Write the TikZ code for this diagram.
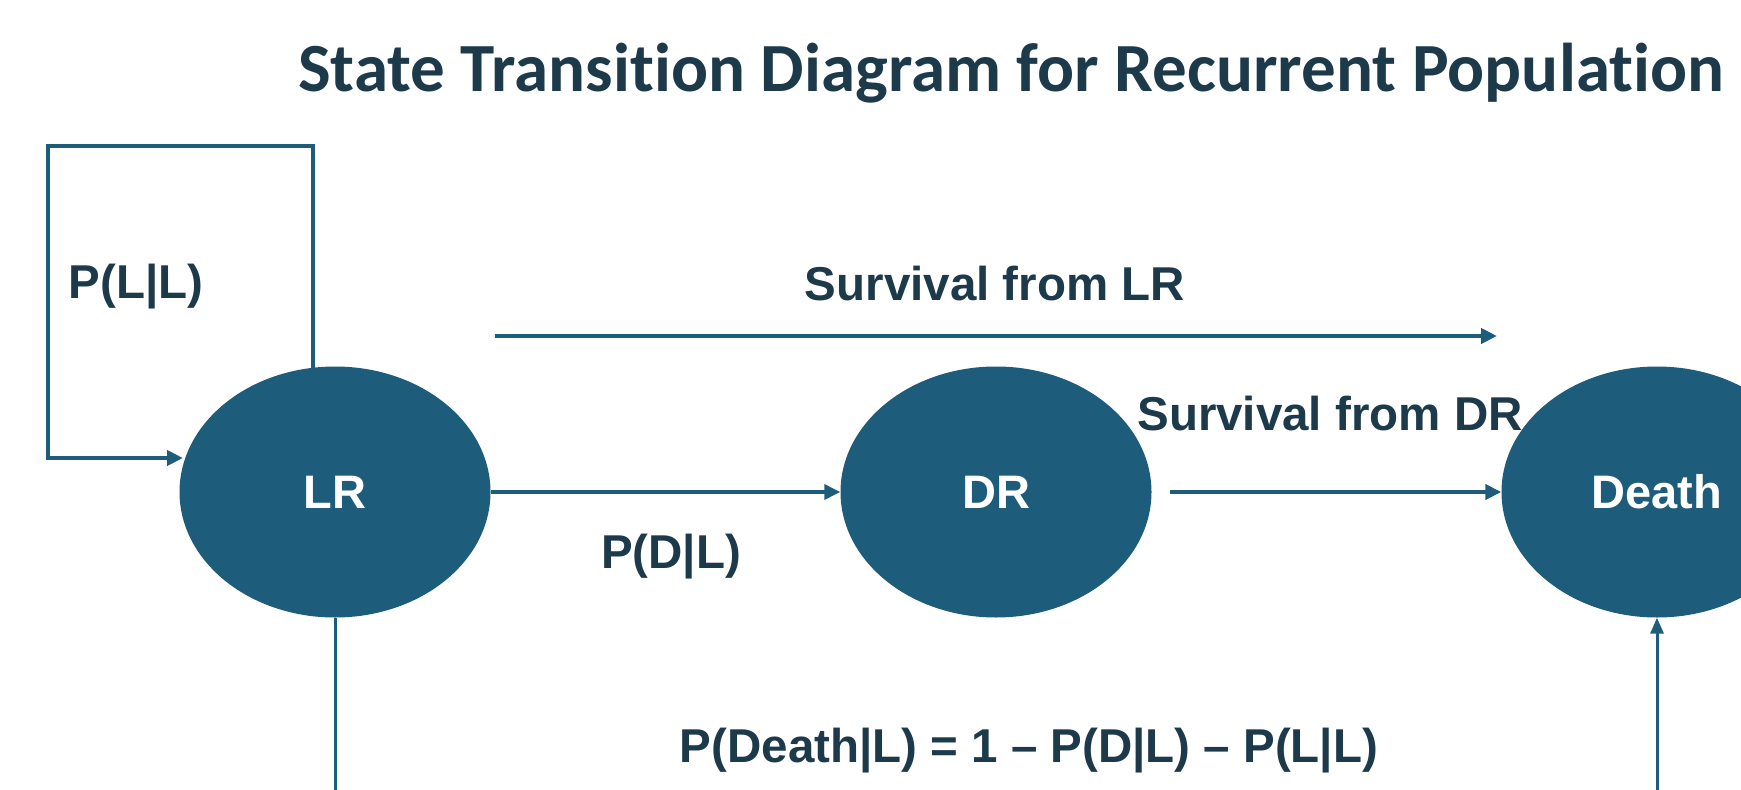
\documentclass[tikz,border=0pt]{standalone}
\usepackage{fontspec}
\setmainfont{Liberation Sans}
\newfontfamily\titlefont[Ligatures=NoCommon]{Carlito}
\usetikzlibrary{shapes.geometric,arrows.meta}

\definecolor{statefill}{HTML}{1E5C7B}
\definecolor{labeltext}{HTML}{1D3A4B}

\tikzset{
  statenode/.style={ellipse, fill=statefill, draw=none, inner sep=0pt,
    minimum width=311pt, minimum height=251pt, text=white,
    font=\fontsize{47}{56}\selectfont\bfseries},
  lbl/.style={text=labeltext, inner sep=0pt,
    font=\fontsize{47.5}{56}\selectfont\bfseries},
  link/.style={draw=statefill, line width=4pt,
    -{Triangle[length=16pt,width=15pt]}},
  thinlink/.style={draw=statefill, line width=3pt},
}

\begin{document}
\begin{tikzpicture}[x=1pt,y=-1pt]
  \useasboundingbox (0,0) rectangle (1741,790);
  \clip (0,0) rectangle (1741,790);

  % title
  \node[text=labeltext, inner sep=0pt, anchor=base west,
        font=\fontsize{69}{80}\selectfont\titlefont\bfseries]
        (title) at (298,91) {State Transition Diagram for Recurrent Population};

  % states
  \node[statenode] (lr) at (335,492) {LR};
  \node[statenode] (dr) at (996,492) {DR};
  \node[statenode] (death) at (1657,492) {Death};

  % self loop on LR
  \coordinate (loopA) at (313,368);
  \coordinate (loopB) at (313,146);
  \coordinate (loopC) at (48,146);
  \coordinate (loopD) at (48,458);
  \coordinate (loopE) at (183,458);
  \draw[link, line width=4.5pt] (loopA) -- (loopB) -- (loopC) -- (loopD) -- (loopE);
  \node[lbl] (pll) at (136,287) {P(L|L)};

  % LR to DR
  \draw[link, line width=3.5pt] (lr.east) -- (dr.west);
  \node[lbl] (pdl) at (671,557) {P(D|L)};

  % DR to Death
  \draw[link, shorten <=18pt] (dr.east) -- (death.west);
  \node[lbl] (sdr) at (1330,414) {Survival from DR};

  % survival from LR
  \coordinate (slA) at (495,336);
  \coordinate (slB) at (1497,336);
  \draw[link] (slA) -- (slB);
  \node[lbl] (slr) at (995,284) {Survival from LR};

  % LR to Death along the bottom
  \coordinate (lrdown) at (lr.south |- 0,800);
  \coordinate (deathup) at (death.south |- 0,800);
  \draw[thinlink] (lr.south) -- (lrdown);
  \draw[thinlink, -{Triangle[length=16pt,width=13pt]}] (deathup) -- (death.south);
  \node[lbl] (pdeath) at (1029,751) {P(Death|L) = 1 – P(D|L) – P(L|L)};
\end{tikzpicture}
\end{document}
